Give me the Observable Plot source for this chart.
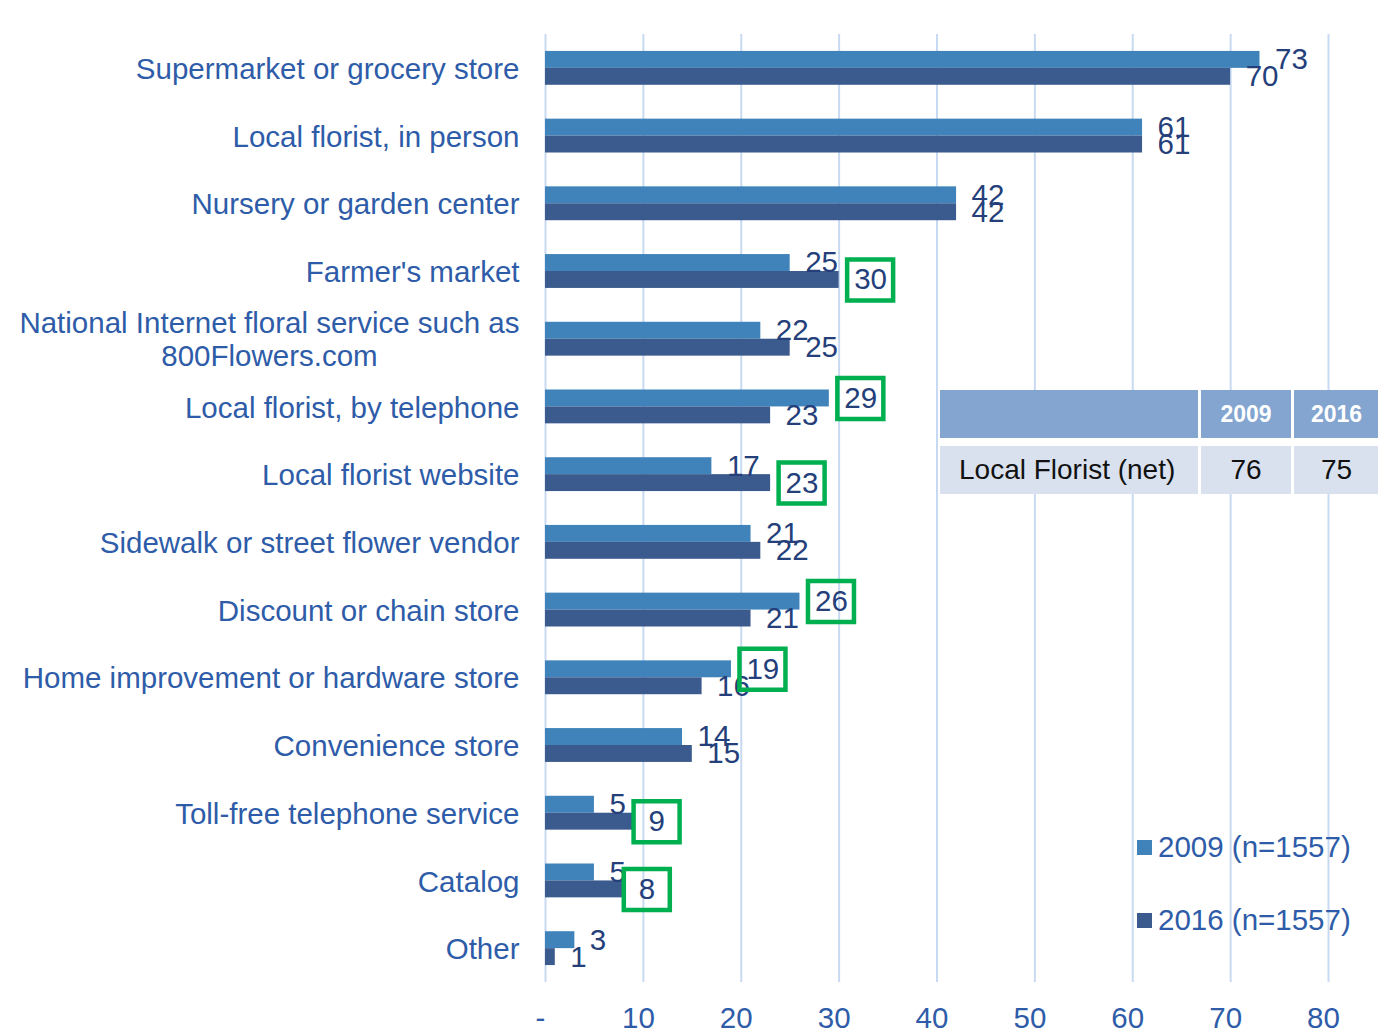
<!DOCTYPE html>
<html><head><meta charset="utf-8">
<script src="https://cdn.jsdelivr.net/npm/d3@7"></script>
<script src="https://cdn.jsdelivr.net/npm/@observablehq/plot@0.6"></script>
<style>
body{margin:0;background:#fff;}
#wrap{position:relative;width:1378px;height:1031px;font-family:"Liberation Sans",Arial,sans-serif;overflow:hidden;}
#wrap svg{position:absolute;left:0;top:0;}
#tbl{position:absolute;left:940px;top:390px;background:#fff;display:grid;grid-template-columns:258px 90px 85px;column-gap:3px;row-gap:8px;}
#tbl div{height:48px;display:flex;align-items:center;justify-content:center;}
#tbl .h{background:#83a5d0;color:#fff;font-weight:bold;font-size:23px;}
#tbl .b{background:#d9e1ee;color:#111;font-size:28px;}
#tbl .b.first{justify-content:flex-start;padding-left:19px;box-sizing:border-box;}
#legend{position:absolute;left:1137px;top:828px;color:#2e5ca8;font-size:29.5px;}
#legend .item{display:flex;align-items:center;height:38px;margin-bottom:35px;}
#legend .sw{width:15px;height:15px;margin-right:6px;}
</style></head><body><div id="wrap"></div>
<script>
const categories = [
  "Supermarket or grocery store",
  "Local florist, in person",
  "Nursery or garden center",
  "Farmer's market",
  "National Internet floral service such as\n800Flowers.com",
  "Local florist, by telephone",
  "Local florist website",
  "Sidewalk or street flower vendor",
  "Discount or chain store",
  "Home improvement or hardware store",
  "Convenience store",
  "Toll-free telephone service",
  "Catalog",
  "Other"
];
const values2009 = [73, 61, 42, 25, 22, 29, 17, 21, 26, 19, 14, 5, 5, 3];
const values2016 = [70, 61, 42, 30, 25, 23, 23, 22, 21, 16, 15, 9, 8, 1];
const boxed2009 = ["Local florist, by telephone", "Discount or chain store", "Home improvement or hardware store"];
const boxed2016 = ["Farmer's market", "Local florist website", "Toll-free telephone service", "Catalog"];
const xTicks = [0, 10, 20, 30, 40, 50, 60, 70, 80];
const seriesNames = ["2009 (n=1557)", "2016 (n=1557)"];
const seriesColors = ["#3f83ba", "#3b5a8d"];
const tableHeader = ["", "2009", "2016"];
const tableRow = ["Local Florist (net)", "76", "75"];

const W = 1378, H = 1031, mt = 34, mb = 49, ml = 545, mr = 50;
const step = (H - mt - mb) / (categories.length - 0.5 + 0.5);
const barBand = step * 0.5;
const half = barBand / 2;      // inset to split the band in two bars
const quarter = barBand / 4;   // offset from band centre to each bar's centre

const rows2009 = categories.map((c, i) => ({category: c, value: values2009[i], boxed: boxed2009.includes(c)}));
const rows2016 = categories.map((c, i) => ({category: c, value: values2016[i], boxed: boxed2016.includes(c)}));

const boxSymbol = {draw(ctx) { ctx.moveTo(-23, -20.5); ctx.lineTo(23, -20.5); ctx.lineTo(23, 20.5); ctx.lineTo(-23, 20.5); ctx.closePath(); }};
const labelColor = "#243f7a";
const green = "#00b050";
const FS = 29.5;

function boxes(rows, dy) {
  return [
    Plot.dot(rows.filter(d => d.boxed && d.value >= 10), {x: "value", y: "category", dy, dx: 31, symbol: boxSymbol, r: 10, fill: "none", stroke: green, strokeWidth: 4.5}),
    Plot.dot(rows.filter(d => d.boxed && d.value < 10), {x: "value", y: "category", dy, dx: 23, symbol: boxSymbol, r: 10, fill: "none", stroke: green, strokeWidth: 4.5})
  ];
}

const chart = Plot.plot({
  width: W, height: H,
  marginTop: mt, marginBottom: mb, marginLeft: ml, marginRight: mr,
  style: {fontFamily: "Liberation Sans, Arial, sans-serif", fontSize: FS + "px", color: "#2e5ca8", background: "transparent"},
  x: {domain: [0, 80]},
  y: {domain: categories, paddingInner: 0.5, paddingOuter: 0.25, round: false},
  marks: [
    Plot.ruleX(xTicks, {stroke: "#c8daf2", strokeWidth: 2}),
    Plot.barX(rows2009, {x: "value", y: "category", fill: seriesColors[0], insetBottom: half, insetTop: 0}),
    Plot.barX(rows2016, {x: "value", y: "category", fill: seriesColors[1], insetTop: half, insetBottom: 0}),
    Plot.text(rows2009, {x: "value", y: "category", text: d => String(d.value), dy: -quarter, dx: 15, textAnchor: "start", fill: labelColor, fontSize: FS}),
    Plot.text(rows2016, {x: "value", y: "category", text: d => String(d.value), dy: quarter, dx: 15, textAnchor: "start", fill: labelColor, fontSize: FS}),
    ...boxes(rows2009, -quarter),
    ...boxes(rows2016, quarter),
    Plot.axisX({ticks: xTicks, tickFormat: d => d === 0 ? "-" : String(d), tickSize: 0, tickPadding: 25, dx: -5, label: null, fontSize: FS}),
    Plot.axisY({tickSize: 0, tickPadding: 26, label: null, fontSize: FS, lineHeight: 1.12})
  ]
});

const wrap = document.getElementById("wrap");
wrap.appendChild(chart);

// centre multi-line category labels within their block
chart.querySelectorAll("text").forEach(t => {
  const spans = t.querySelectorAll("tspan");
  if (spans.length > 1) {
    const w = t.getBBox().width;
    t.setAttribute("text-anchor", "middle");
    const tr = t.getAttribute("transform") || "";
    t.setAttribute("transform", tr + ` translate(${-w / 2},0)`);
  }
});

// table overlay
const tbl = document.createElement("div");
tbl.id = "tbl";
tableHeader.forEach(h => { const d = document.createElement("div"); d.className = "h"; d.textContent = h; tbl.appendChild(d); });
tableRow.forEach((v, i) => { const d = document.createElement("div"); d.className = "b" + (i === 0 ? " first" : ""); d.textContent = v; tbl.appendChild(d); });
wrap.appendChild(tbl);

// legend overlay
const lg = document.createElement("div");
lg.id = "legend";
seriesNames.forEach((s, i) => {
  const it = document.createElement("div"); it.className = "item";
  const sw = document.createElement("div"); sw.className = "sw"; sw.style.background = seriesColors[i];
  const tx = document.createElement("span"); tx.textContent = s;
  it.appendChild(sw); it.appendChild(tx); lg.appendChild(it);
});
wrap.appendChild(lg);
</script>
</body></html>
